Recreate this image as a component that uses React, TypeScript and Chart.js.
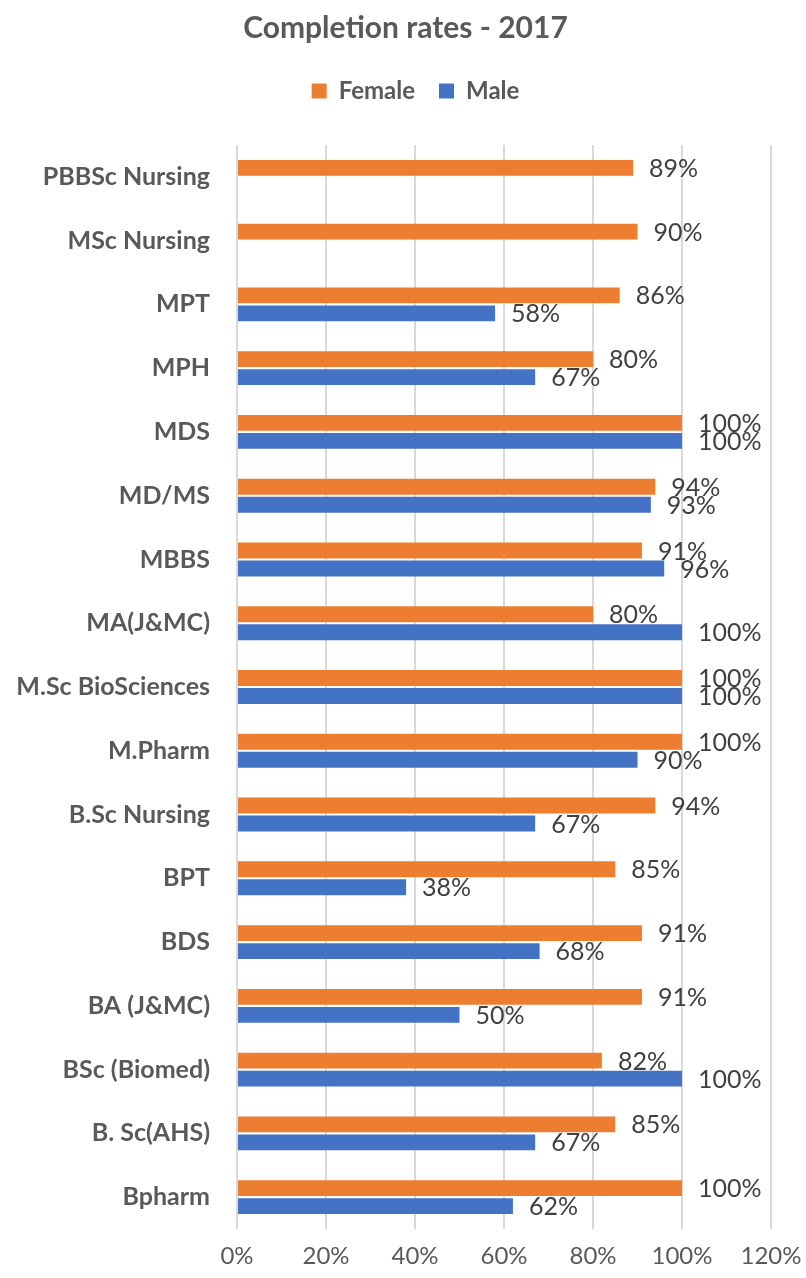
import React, { useEffect, useRef } from 'react';
import { Chart, registerables } from 'chart.js';

Chart.register(...registerables);

const categories = [
  'PBBSc Nursing',
  'MSc Nursing',
  'MPT',
  'MPH',
  'MDS',
  'MD/MS',
  'MBBS',
  'MA(J&MC)',
  'M.Sc BioSciences',
  'M.Pharm',
  'B.Sc Nursing',
  'BPT',
  'BDS',
  'BA (J&MC)',
  'BSc (Biomed)',
  'B. Sc(AHS)',
  'Bpharm',
];

const femaleRates = [89, 90, 86, 80, 100, 94, 91, 80, 100, 100, 94, 85, 91, 91, 82, 85, 100];
const maleRates = [null, null, 58, 67, 100, 93, 96, 100, 100, 90, 67, 38, 68, 50, 100, 67, 62];

const xTickValues = [0, 20, 40, 60, 80, 100, 120];

const chartTitle = 'Completion rates - 2017';
const seriesNames = ['Female', 'Male'];
const seriesColors = ['#ED7D31', '#4472C4'];

const FONT = 'Lato';
const LEGEND_EXTRA_HEIGHT = 32;
const LEGEND_SHIFT_X = 30;
const TITLE_SHIFT_X = 20;

const valueLabelPlugin = {
  id: 'valueLabels',
  afterDatasetsDraw(chart: any) {
    const ctx = chart.ctx;
    ctx.save();
    ctx.font = `25px ${FONT}`;
    ctx.fillStyle = '#404040';
    ctx.textAlign = 'left';
    ctx.textBaseline = 'middle';
    chart.data.datasets.forEach((ds: any, di: number) => {
      const meta = chart.getDatasetMeta(di);
      meta.data.forEach((bar: any, i: number) => {
        const v = ds.data[i];
        if (v === null || v === undefined) return;
        ctx.fillText(`${v}%`, bar.x + 16, bar.y + 1);
      });
    });
    ctx.restore();
  },
};

const headerPlacementPlugin = {
  id: 'headerPlacement',
  beforeInit(chart: any) {
    const legend = chart.legend;
    if (!legend) return;
    const originalFit = legend.fit;
    legend.fit = function () {
      originalFit.call(this);
      this.height += LEGEND_EXTRA_HEIGHT;
    };
  },
  afterLayout(chart: any) {
    const legend = chart.legend;
    if (legend) {
      legend.left += LEGEND_SHIFT_X;
      legend.right += LEGEND_SHIFT_X;
    }
    const title = chart.titleBlock;
    if (title) {
      title.left += TITLE_SHIFT_X;
      title.right += TITLE_SHIFT_X;
    }
  },
};

export default function App() {
  const canvasRef = useRef<HTMLCanvasElement | null>(null);

  useEffect(() => {
    if (!canvasRef.current) return;
    const chart = new Chart(canvasRef.current, {
      type: 'bar',
      data: {
        labels: categories,
        datasets: [
          {
            label: seriesNames[0],
            data: femaleRates,
            backgroundColor: seriesColors[0],
            categoryPercentage: 0.565,
            barPercentage: 0.88,
          },
          {
            label: seriesNames[1],
            data: maleRates,
            backgroundColor: seriesColors[1],
            categoryPercentage: 0.565,
            barPercentage: 0.88,
          },
        ],
      },
      options: {
        indexAxis: 'y',
        responsive: false,
        animation: false,
        layout: {
          padding: { left: 0, right: 35, top: 0, bottom: 8 },
        },
        plugins: {
          title: {
            display: true,
            text: chartTitle,
            color: '#595959',
            font: { family: FONT, size: 30, weight: 'bold' },
            padding: { top: 10, bottom: 9 },
          },
          legend: {
            display: true,
            position: 'top',
            labels: {
              color: '#595959',
              font: { family: FONT, size: 24, weight: 'bold' },
              boxWidth: 15,
              boxHeight: 15,
              padding: 24,
            },
          },
          tooltip: { enabled: false },
        },
        scales: {
          x: {
            min: 0,
            max: 120,
            afterBuildTicks(scale: any) {
              scale.ticks = xTickValues.map((v) => ({ value: v }));
            },
            afterFit(scale: any) {
              scale.height = 41;
              scale.paddingLeft = 0;
              scale.paddingRight = 0;
            },
            ticks: {
              callback: (v: any) => `${v}%`,
              color: '#595959',
              font: { family: FONT, size: 24 },
              padding: 13,
              maxRotation: 0,
            },
            grid: {
              color: '#D9D9D9',
              lineWidth: 2,
              drawTicks: false,
            },
            border: { display: false },
          },
          y: {
            afterFit(scale: any) {
              scale.width = 237;
            },
            ticks: {
              color: '#595959',
              font: { family: FONT, size: 25, weight: 'bold' },
              padding: 27,
            },
            grid: { display: false, drawTicks: false },
            border: { display: false },
          },
        },
      },
      plugins: [valueLabelPlugin, headerPlacementPlugin],
    });
    return () => chart.destroy();
  }, []);

  return (
    <div style={{ position: 'absolute', left: 0, top: 0, width: 806, height: 1278, background: '#ffffff' }}>
      <canvas ref={canvasRef} width={806} height={1278} style={{ display: 'block' }} />
    </div>
  );
}
